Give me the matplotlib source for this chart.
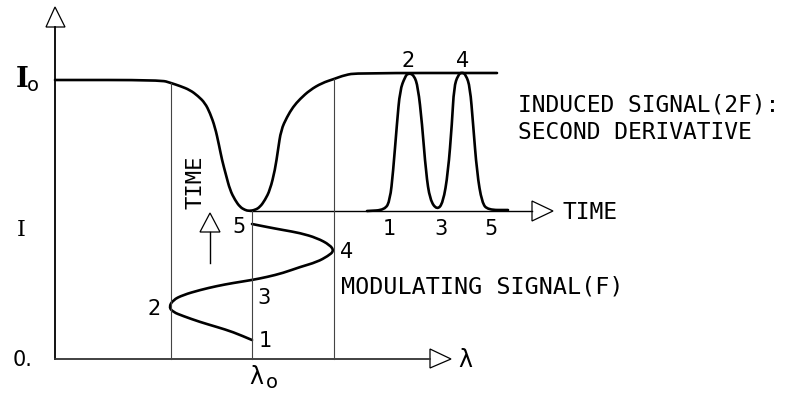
import matplotlib.pyplot as plt
from matplotlib.patches import Polygon, PathPatch
from matplotlib.path import Path

# Absorption line profile (wavelength, transmitted intensity), drawing units
line_x = [55, 161, 171, 180, 190, 198, 205, 210, 215, 219, 222, 226, 230, 235, 240, 245, 249,
          255, 260, 265, 270, 275, 278, 281, 287, 293, 300, 310, 322, 334, 345, 357, 497]
line_y = [80, 80, 83, 86, 90, 96, 103, 113, 127, 145, 160, 175, 190, 200, 207, 210, 211,
          210, 207, 200, 190, 170, 150, 130, 117, 107, 99, 90, 83, 79, 75, 73, 73]

# Modulating signal (F): wavelength swing vs. time, points 1..5
mod_x = [252, 233, 217, 200, 183, 173, 169, 173, 183, 200, 217, 233, 252,
         267, 283, 300, 317, 328, 334, 330, 317, 300, 283, 267, 252]
mod_y = [340, 332, 327, 322, 316, 312, 307, 300, 295, 290, 286, 283, 280,
         277, 273, 267, 262, 256, 251, 245, 238, 233, 230, 227, 224]

# Induced signal (2F) vs. time
sig_x = [367, 385, 390, 393, 397, 400, 405, 408, 414, 418, 422, 426, 430, 437,
         443, 448, 452, 454, 458, 462, 466, 470, 473, 477, 482, 488, 508]
sig_y = [211, 210, 200, 173, 123, 90, 77, 73, 75, 87, 123, 173, 200, 210,
         203, 173, 123, 87, 75, 72, 75, 87, 123, 173, 203, 210, 210]

# wavelength markers: lower swing, line centre, upper swing
marker_x = [171, 252, 334]
marker_top = [83, 211, 79]

mod_labels = ["1", "2", "3", "4", "5"]
mod_label_xy = [(265, 347), (154, 315), (264, 304), (347, 258), (239, 233)]
time_labels = ["1", "3", "5"]
time_label_x = [389, 441, 491]
peak_labels = ["2", "4"]
peak_label_x = [408, 463]

W, H = 789, 398
fig = plt.figure(figsize=(W / 100, H / 100), dpi=100)
ax = fig.add_axes([0, 0, 1, 1])
ax.set_xlim(0, W)
ax.set_ylim(H, 0)
ax.axis("off")

mono = "DejaVu Sans Mono"
thick = 1.9
thin = 1.0


def open_arrow(pts):
    ax.add_patch(Polygon(pts, closed=True, fill=False, edgecolor="black", lw=0.9))


def smooth_curve(xs, ys):
    # quadratic bezier through the midpoints, sampled points act as controls
    pts = list(zip(xs, ys))
    mids = [((a[0] + b[0]) / 2, (a[1] + b[1]) / 2) for a, b in zip(pts[:-1], pts[1:])]
    verts = [pts[0], mids[0]]
    codes = [Path.MOVETO, Path.LINETO]
    for p, m in zip(pts[1:-1], mids[1:]):
        verts += [p, m]
        codes += [Path.CURVE3, Path.CURVE3]
    verts.append(pts[-1])
    codes.append(Path.LINETO)
    ax.add_patch(PathPatch(Path(verts, codes), fill=False, edgecolor="black", lw=thick,
                           joinstyle="round", capstyle="round"))


# axes
ax.plot([55, 55], [27, 359], color="black", lw=thin + 0.3)
open_arrow([(55, 7), (46, 27), (65, 27)])
ax.plot([55, 430], [359, 359], color="#333333", lw=thin + 0.3)
open_arrow([(430, 349), (451, 359), (430, 368)])

# time axis of the 2F signal
ax.plot([250, 532], [211, 211], color="black", lw=thin)
open_arrow([(532, 201), (553, 211), (532, 221)])

# vertical markers
for mx, mt in zip(marker_x, marker_top):
    ax.plot([mx, mx], [mt, 359], color="#444444", lw=0.8)

# curves
smooth_curve(line_x, line_y)
smooth_curve(mod_x, mod_y)
smooth_curve(sig_x, sig_y)

# time arrow for the modulation
ax.plot([210, 210], [263, 232], color="black", lw=thin)
open_arrow([(200, 232), (220, 232), (210, 213)])
ax.text(196, 182, "TIME", family=mono, fontsize=16, rotation=90, ha="center", va="center")

# point labels
for lab, (lx, ly) in zip(mod_labels, mod_label_xy):
    ax.text(lx, ly, lab, fontsize=15, ha="center", va="baseline")
for lab, lx in zip(time_labels, time_label_x):
    ax.text(lx, 235, lab, fontsize=15, ha="center", va="baseline")
for lab, lx in zip(peak_labels, peak_label_x):
    ax.text(lx, 67, lab, fontsize=15, ha="center", va="baseline")

# annotations
ax.text(563, 219, "TIME", family=mono, fontsize=16.5, ha="left", va="baseline")
ax.text(518, 111, "INDUCED SIGNAL(2F):", family=mono, fontsize=16.5, ha="left", va="baseline")
ax.text(518, 139, "SECOND DERIVATIVE", family=mono, fontsize=16.5, ha="left", va="baseline")
ax.text(341, 294, "MODULATING SIGNAL(F)", family=mono, fontsize=16.8, ha="left", va="baseline")

# axis labels
ax.text(22, 87, "I", family="DejaVu Serif", fontweight="bold", fontsize=20, ha="center", va="baseline")
ax.text(33, 91, "o", fontsize=14, ha="center", va="baseline")
ax.text(21, 236, "I", family="DejaVu Serif", fontsize=16, ha="center", va="baseline")
ax.text(23, 366, "0.", fontsize=15, ha="center", va="baseline")
ax.text(465, 367, "λ", fontsize=17, ha="center", va="baseline")
ax.text(256, 384, "λ", fontsize=17, ha="center", va="baseline")
ax.text(272, 388, "o", fontsize=14, ha="center", va="baseline")

fig.savefig("out.png", dpi=100)
